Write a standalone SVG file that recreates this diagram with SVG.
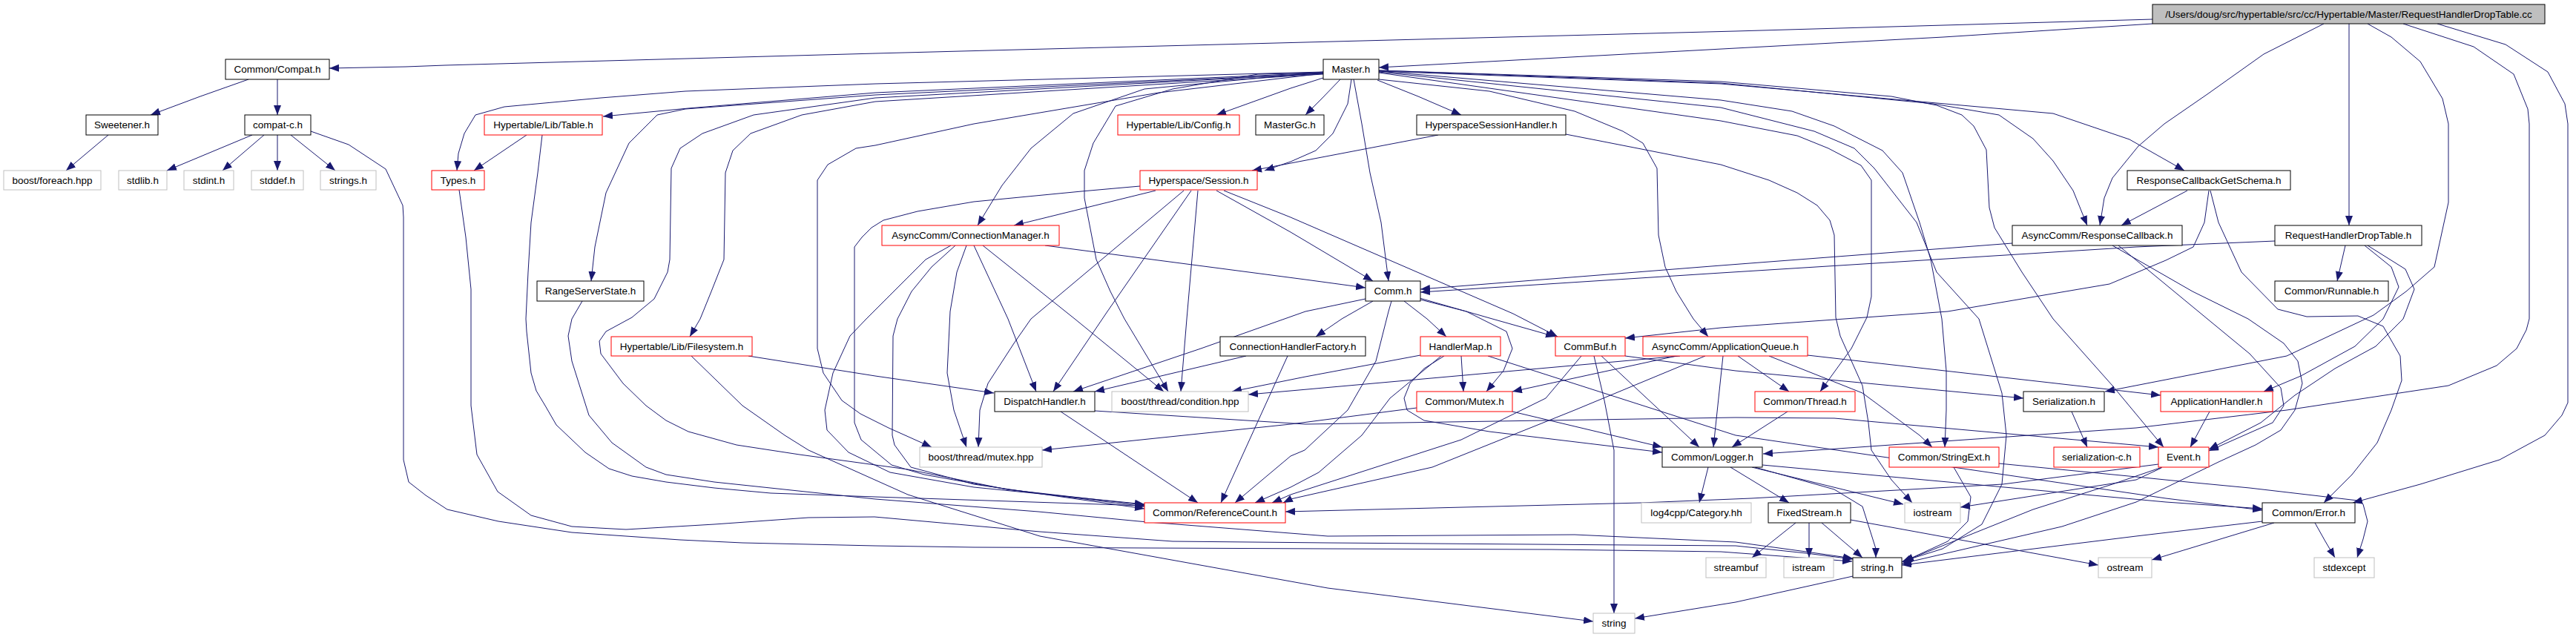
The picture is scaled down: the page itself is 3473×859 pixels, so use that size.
<svg xmlns="http://www.w3.org/2000/svg" width="3473" height="859" viewBox="0 0 3473 859">
<style>
.n rect{fill:#fff;stroke:#000;stroke-width:1}
.n.r rect{stroke:#ff0000}
.n.g rect{stroke:#bfbfbf}
.n.m rect{fill:#bfbfbf}
text{font-family:"Liberation Sans",Arial,sans-serif;font-size:13.5px;text-anchor:middle;fill:#000}
#edges path{fill:none;stroke:#191970;stroke-width:1;marker-end:url(#a)}
</style>
<defs>
<marker id="a" markerUnits="userSpaceOnUse" markerWidth="14" markerHeight="11" refX="13" refY="5" orient="auto"><path d="M0,0 L13,5 L0,10 z" fill="#191970"/></marker>
</defs>
<rect width="3473" height="859" fill="#fff"/>
<g id="edges">
<path d="M2902,26 L2340,42 L1760,57 L1180,72 L600,88 L547,90 L444,92"/>
<path d="M2902,32 L2620,50 L2340,65 L1859,91"/>
<path d="M3133,32 L3052,73 L2976,127 L2918,167 L2883,197 L2848,240 L2837,267 L2831,304"/>
<path d="M3167,32 L3167,304"/>
<path d="M3192,32 L3224,50 L3263,83 L3293,133 L3301,167 L3301,273 L3282,360 L3244,393 L3200,425 L3083,480 L2920,512 L2838,528"/>
<path d="M3240,32 L3335,63 L3389,100 L3408,147 L3410,167 L3410,430 L3406,445 L3393,470 L3366,493 L3301,520 L3083,553 L2880,577 L2377,612"/>
<path d="M3286,32 L3378,60 L3435,97 L3458,140 L3462,167 L3462,543 L3454,560 L3431,587 L3370,620 L3263,653 L3172,678"/>
<path d="M335,107 L270,130 L203,155"/>
<path d="M374,107 L374,155"/>
<path d="M146,182 L89,230"/>
<path d="M340,182 L225,230"/>
<path d="M356,182 L300,230"/>
<path d="M374,182 L374,230"/>
<path d="M392,182 L452,230"/>
<path d="M419,177 L470,195 L520,228 L543,277 L544,293 L544,620 L551,650 L574,668 L603,687 L672,703 L771,718 L917,728 L1001,732 L1180,736 L1313,738 L1790,740 L2092,741 L2320,744 L2497,757"/>
<path d="M1807,107 L1782,133 L1760,155"/>
<path d="M1822,107 L1817,140 L1797,180 L1774,203 L1740,218 L1705,230"/>
<path d="M1939,182 L1688,230"/>
<path d="M1825,107 L1836,167 L1847,233 L1862,300 L1872,379"/>
<path d="M1857,108 L1912,130 L1970,155"/>
<path d="M1784,97 L1180,113 L924,123 L810,132 L680,144 L641,155 L626,180 L618,207 L616,230"/>
<path d="M1784,98 L1180,125 L928,146 L813,157"/>
<path d="M1784,99 L1180,128 L924,147 L886,155 L848,193 L817,260 L802,333 L797,379"/>
<path d="M1784,100 L1180,137 L1081,155 L1012,180 L988,203 L978,233 L976,350 L959,393 L944,430 L930,454"/>
<path d="M1784,99 L1180,132 L1016,155 L947,180 L917,200 L905,227 L903,350 L900,367 L882,403 L852,428 L817,447 L808,460 L810,477 L840,517 L871,547 L898,567 L928,582 L993,600 L1078,613 L1224,633 L1358,660 L1543,681"/>
<path d="M1784,105 L1740,119 L1640,155"/>
<path d="M1784,97 L1543,120 L1447,153 L1390,200 L1351,250 L1318,304"/>
<path d="M1784,98 L1696,100 L1581,120 L1504,143 L1474,193 L1462,230 L1462,267 L1478,350 L1497,393 L1516,430 L1575,528"/>
<path d="M1784,99 L1562,125 L1313,167 L1180,196 L1154,200 L1116,222 L1102,243 L1102,470 L1110,503 L1135,540 L1160,558 L1198,577 L1256,603"/>
<path d="M1859,96 L2320,135 L2416,150 L2473,170 L2538,203 L2565,233 L2588,300 L2603,350 L2618,430 L2624,500 L2624,553 L2622,603"/>
<path d="M1859,97 L2320,145 L2446,177 L2500,200 L2527,227 L2584,300 L2611,367 L2668,430 L2699,530 L2705,587 L2699,653 L2672,707 L2619,740 L2565,757"/>
<path d="M1859,98 L2320,163 L2423,183 L2465,200 L2509,223 L2523,243 L2523,400 L2517,428 L2496,470 L2454,528"/>
<path d="M1859,95 L2320,110 L2550,130 L2611,142 L2645,155 L2661,170 L2678,202 L2682,280 L2689,307 L2726,367 L2768,430 L2848,520 L2917,603"/>
<path d="M1859,95 L2320,112 L2607,140 L2695,155 L2741,187 L2768,217 L2795,257 L2814,304"/>
<path d="M1859,96 L2320,113 L2768,153 L2871,188 L2945,230"/>
<path d="M2111,181 L2320,222 L2385,243 L2423,260 L2450,277 L2467,297 L2473,317 L2475,428 L2481,453 L2511,520 L2519,570 L2523,607 L2550,647 L2578,678"/>
<path d="M1859,107 L2008,123 L2123,150 L2188,177 L2215,193 L2234,227 L2236,317 L2245,360 L2260,393 L2283,430 L2303,454"/>
<path d="M619,256 L628,320 L635,390 L635,547 L643,613 L671,663 L716,695 L771,710 L844,714 L963,707 L1090,698 L1179,697 L1402,717 L1581,730 L1790,732 L2340,736 L2435,746 L2498,754"/>
<path d="M710,182 L639,230"/>
<path d="M731,182 L725,233 L716,300 L712,367 L709,430 L710,447 L716,503 L723,527 L735,547 L750,573 L789,610 L821,632 L852,642 L898,650 L963,658 L1039,665 L1180,670 L1543,682"/>
<path d="M785,406 L771,430 L766,453 L771,487 L794,560 L825,597 L871,630 L898,640 L963,650 L1180,673 L1400,690 L1536,703 L1790,723 L2123,721 L2340,731 L2435,744 L2498,753"/>
<path d="M1009,480 L1180,507 L1340,530"/>
<path d="M932,480 L1001,547 L1058,587 L1090,607 L1224,667 L1402,723 L1790,793 L2148,838"/>
<path d="M1558,257 L1367,304"/>
<path d="M1537,251 L1458,258 L1313,272 L1237,285 L1191,297 L1175,307 L1162,320 L1152,333 L1152,570 L1161,593 L1202,627 L1246,640 L1358,660 L1543,683"/>
<path d="M1596,257 L1390,430 L1367,463 L1332,517 L1321,553 L1319,603"/>
<path d="M1606,257 L1493,420 L1420,528"/>
<path d="M1615,257 L1600,430 L1592,528"/>
<path d="M1640,257 L1740,313 L1851,379"/>
<path d="M1650,257 L1740,293 L2040,423 L2100,454"/>
<path d="M1409,331 L1760,377 L1841,388"/>
<path d="M1303,331 L1290,367 L1281,420 L1277,503 L1286,553 L1303,603"/>
<path d="M1313,331 L1359,430 L1397,528"/>
<path d="M1325,331 L1449,430 L1569,528"/>
<path d="M1288,331 L1256,360 L1229,393 L1210,430 L1204,453 L1203,587 L1206,600 L1228,630 L1313,653 L1543,686"/>
<path d="M1282,331 L1248,350 L1168,430 L1146,453 L1123,503 L1112,553 L1115,580 L1144,610 L1200,637 L1313,657 L1543,680"/>
<path d="M1841,403 L1760,420 L1619,470 L1447,528"/>
<path d="M1851,406 L1809,430 L1774,454"/>
<path d="M1876,406 L1872,420 L1855,487 L1817,553 L1759,607 L1740,615 L1665,678"/>
<path d="M1893,406 L1924,430 L1950,454"/>
<path d="M1914,402 L2012,430 L2097,454"/>
<path d="M1915,404 L1977,420 L2031,447 L2039,470 L2027,500 L2004,528"/>
<path d="M1680,480 L1476,528"/>
<path d="M1736,480 L1646,678"/>
<path d="M1970,480 L1973,528"/>
<path d="M1915,479 L1760,508 L1661,528"/>
<path d="M1947,480 L1920,497 L1901,517 L1893,537 L1897,553 L1920,567 L2008,582 L2241,610"/>
<path d="M1943,480 L1874,537 L1836,587 L1778,637 L1740,657 L1692,678"/>
<path d="M2006,480 L2340,587 L2920,672 L3050,688"/>
<path d="M2191,480 L2340,500 L2728,537"/>
<path d="M2159,480 L2291,603"/>
<path d="M2149,480 L2163,540 L2176,607 L2176,827"/>
<path d="M2132,480 L2084,537 L1970,593 L1740,667 L1715,678"/>
<path d="M2323,480 L2310,603"/>
<path d="M2299,480 L2123,553 L1931,630 L1740,673 L1730,678"/>
<path d="M2260,480 L2039,528"/>
<path d="M2343,480 L2412,528"/>
<path d="M2385,480 L2511,530 L2588,587 L2605,603"/>
<path d="M2437,479 L2913,533"/>
<path d="M2265,480 L1740,527 L1683,532"/>
<path d="M1430,555 L1615,678"/>
<path d="M1476,554 L1760,572 L2340,563 L2473,564 L2910,603"/>
<path d="M1910,550 L1740,572 L1405,607"/>
<path d="M2039,555 L2241,603"/>
<path d="M2303,630 L2291,678"/>
<path d="M2333,630 L2412,678"/>
<path d="M2362,630 L2566,680"/>
<path d="M2366,630 L2473,660 L2511,683 L2529,740 L2529,752"/>
<path d="M2376,627 L2920,677 L3050,686"/>
<path d="M2410,555 L2335,603"/>
<path d="M2634,630 L2657,670 L2653,703 L2626,730 L2567,757"/>
<path d="M2695,625 L2880,643 L2949,650 L3033,658 L3179,675 L3186,680 L3192,703 L3186,727 L3178,752"/>
<path d="M2793,555 L2814,603"/>
<path d="M2910,626 L2700,653 L2361,672 L2213,678 L1733,690"/>
<path d="M2915,630 L2848,653 L2741,687 L2564,758"/>
<path d="M2914,631 L2880,647 L2643,684"/>
<path d="M2979,555 L2953,603"/>
<path d="M2713,328 L2320,358 L1915,390"/>
<path d="M2856,331 L2976,430 L3033,477 L3075,523 L3079,547 L3064,570 L2978,608"/>
<path d="M2848,331 L2956,393 L3031,430 L3079,463 L3098,487 L3104,517 L3094,553 L3075,580 L3041,600 L2991,623 L2880,677 L2780,710 L2564,760"/>
<path d="M3067,325 L2880,333 L2320,368 L1915,394"/>
<path d="M3162,331 L3151,379"/>
<path d="M3188,331 L3224,360 L3234,387 L3213,430 L3175,467 L3102,507 L3052,528"/>
<path d="M3192,331 L3243,363 L3255,390 L3240,430 L3203,467 L3148,497 L3094,533 L3048,570 L2978,606"/>
<path d="M2949,257 L2860,304"/>
<path d="M2978,257 L2972,300 L2957,333 L2920,351 L2844,383 L2626,420 L2320,442 L2191,456"/>
<path d="M2980,257 L2991,300 L3022,367 L3071,417 L3110,427 L3179,426 L3213,440 L3236,480 L3238,513 L3224,553 L3205,597 L3171,640 L3133,678"/>
<path d="M3050,703 L2880,723 L2564,762"/>
<path d="M3066,705 L2901,755"/>
<path d="M3121,705 L3135,730 L3148,752"/>
<path d="M2421,705 L2362,752"/>
<path d="M2439,705 L2439,752"/>
<path d="M2456,705 L2511,752"/>
<path d="M2495,701 L2829,762"/>
<path d="M2498,777 L2340,812 L2204,834"/>
</g>
<g id="n_main" class="n m"><rect x="2902" y="6" width="529" height="26"/><text x="3166.5" y="24">/Users/doug/src/hypertable/src/cc/Hypertable/Master/RequestHandlerDropTable.cc</text></g>
<g id="n_compat" class="n"><rect x="304" y="80" width="140" height="27"/><text x="374" y="98">Common/Compat.h</text></g>
<g id="n_master" class="n"><rect x="1784" y="80" width="75" height="27"/><text x="1821.5" y="98">Master.h</text></g>
<g id="n_sweet" class="n"><rect x="116" y="155" width="97" height="27"/><text x="164.5" y="173">Sweetener.h</text></g>
<g id="n_compatc" class="n"><rect x="330" y="155" width="89" height="27"/><text x="374.5" y="173">compat-c.h</text></g>
<g id="n_table" class="n r"><rect x="653" y="155" width="159" height="27"/><text x="732.5" y="173">Hypertable/Lib/Table.h</text></g>
<g id="n_config" class="n r"><rect x="1507" y="155" width="164" height="27"/><text x="1589" y="173">Hypertable/Lib/Config.h</text></g>
<g id="n_mastergc" class="n"><rect x="1693" y="155" width="92" height="27"/><text x="1739" y="173">MasterGc.h</text></g>
<g id="n_hssh" class="n"><rect x="1910" y="155" width="201" height="27"/><text x="2010.5" y="173">HyperspaceSessionHandler.h</text></g>
<g id="n_foreach" class="n g"><rect x="5" y="230" width="131" height="26"/><text x="70.5" y="248">boost/foreach.hpp</text></g>
<g id="n_stdlib" class="n g"><rect x="160" y="230" width="65" height="26"/><text x="192.5" y="248">stdlib.h</text></g>
<g id="n_stdint" class="n g"><rect x="248" y="230" width="67" height="26"/><text x="281.5" y="248">stdint.h</text></g>
<g id="n_stddef" class="n g"><rect x="339" y="230" width="70" height="26"/><text x="374" y="248">stddef.h</text></g>
<g id="n_strings" class="n g"><rect x="432" y="230" width="75" height="26"/><text x="469.5" y="248">strings.h</text></g>
<g id="n_types" class="n r"><rect x="582" y="230" width="71" height="26"/><text x="617.5" y="248">Types.h</text></g>
<g id="n_session" class="n r"><rect x="1537" y="230" width="158" height="26"/><text x="1616" y="248">Hyperspace/Session.h</text></g>
<g id="n_getschema" class="n"><rect x="2868" y="230" width="220" height="26"/><text x="2978" y="248">ResponseCallbackGetSchema.h</text></g>
<g id="n_connmgr" class="n r"><rect x="1189" y="304" width="239" height="27"/><text x="1308.5" y="322">AsyncComm/ConnectionManager.h</text></g>
<g id="n_respcb" class="n"><rect x="2713" y="304" width="229" height="27"/><text x="2827.5" y="322">AsyncComm/ResponseCallback.h</text></g>
<g id="n_rhdt" class="n"><rect x="3067" y="304" width="198" height="27"/><text x="3166" y="322">RequestHandlerDropTable.h</text></g>
<g id="n_rss" class="n"><rect x="724" y="379" width="144" height="27"/><text x="796" y="397">RangeServerState.h</text></g>
<g id="n_comm" class="n"><rect x="1841" y="379" width="74" height="27"/><text x="1878" y="397">Comm.h</text></g>
<g id="n_runnable" class="n"><rect x="3067" y="379" width="153" height="27"/><text x="3143.5" y="397">Common/Runnable.h</text></g>
<g id="n_fs" class="n r"><rect x="824" y="454" width="190" height="26"/><text x="919" y="472">Hypertable/Lib/Filesystem.h</text></g>
<g id="n_chf" class="n"><rect x="1645" y="454" width="196" height="26"/><text x="1743" y="472">ConnectionHandlerFactory.h</text></g>
<g id="n_hmap" class="n r"><rect x="1915" y="454" width="108" height="26"/><text x="1969" y="472">HandlerMap.h</text></g>
<g id="n_commbuf" class="n r"><rect x="2097" y="454" width="94" height="26"/><text x="2144" y="472">CommBuf.h</text></g>
<g id="n_appq" class="n r"><rect x="2215" y="454" width="222" height="26"/><text x="2326" y="472">AsyncComm/ApplicationQueue.h</text></g>
<g id="n_dispatch" class="n"><rect x="1341" y="528" width="135" height="27"/><text x="1408.5" y="546">DispatchHandler.h</text></g>
<g id="n_cond" class="n g"><rect x="1499" y="528" width="184" height="27"/><text x="1591" y="546">boost/thread/condition.hpp</text></g>
<g id="n_mutexh" class="n r"><rect x="1910" y="528" width="129" height="27"/><text x="1974.5" y="546">Common/Mutex.h</text></g>
<g id="n_thread" class="n r"><rect x="2366" y="528" width="135" height="27"/><text x="2433.5" y="546">Common/Thread.h</text></g>
<g id="n_serial" class="n"><rect x="2728" y="528" width="109" height="27"/><text x="2782.5" y="546">Serialization.h</text></g>
<g id="n_apph" class="n r"><rect x="2913" y="528" width="151" height="27"/><text x="2988.5" y="546">ApplicationHandler.h</text></g>
<g id="n_bmutex" class="n g"><rect x="1240" y="603" width="165" height="27"/><text x="1322.5" y="621">boost/thread/mutex.hpp</text></g>
<g id="n_logger" class="n"><rect x="2241" y="603" width="135" height="27"/><text x="2308.5" y="621">Common/Logger.h</text></g>
<g id="n_strext" class="n r"><rect x="2547" y="603" width="148" height="27"/><text x="2621" y="621">Common/StringExt.h</text></g>
<g id="n_serc" class="n r"><rect x="2769" y="603" width="116" height="27"/><text x="2827" y="621">serialization-c.h</text></g>
<g id="n_event" class="n r"><rect x="2910" y="603" width="68" height="27"/><text x="2944" y="621">Event.h</text></g>
<g id="n_refcount" class="n r"><rect x="1543" y="678" width="190" height="27"/><text x="1638" y="696">Common/ReferenceCount.h</text></g>
<g id="n_log4" class="n g"><rect x="2213" y="678" width="148" height="27"/><text x="2287" y="696">log4cpp/Category.hh</text></g>
<g id="n_fixed" class="n"><rect x="2384" y="678" width="111" height="27"/><text x="2439.5" y="696">FixedStream.h</text></g>
<g id="n_iostream" class="n g"><rect x="2568" y="678" width="75" height="27"/><text x="2605.5" y="696">iostream</text></g>
<g id="n_error" class="n"><rect x="3050" y="678" width="125" height="27"/><text x="3112.5" y="696">Common/Error.h</text></g>
<g id="n_streambuf" class="n g"><rect x="2300" y="752" width="81" height="27"/><text x="2340.5" y="770">streambuf</text></g>
<g id="n_istream" class="n g"><rect x="2405" y="752" width="67" height="27"/><text x="2438.5" y="770">istream</text></g>
<g id="n_stringh" class="n"><rect x="2498" y="752" width="66" height="27"/><text x="2531" y="770">string.h</text></g>
<g id="n_ostream" class="n g"><rect x="2829" y="752" width="72" height="27"/><text x="2865" y="770">ostream</text></g>
<g id="n_stdexcept" class="n g"><rect x="3120" y="752" width="81" height="27"/><text x="3160.5" y="770">stdexcept</text></g>
<g id="n_string" class="n g"><rect x="2148" y="827" width="56" height="27"/><text x="2176" y="845">string</text></g>
</svg>
